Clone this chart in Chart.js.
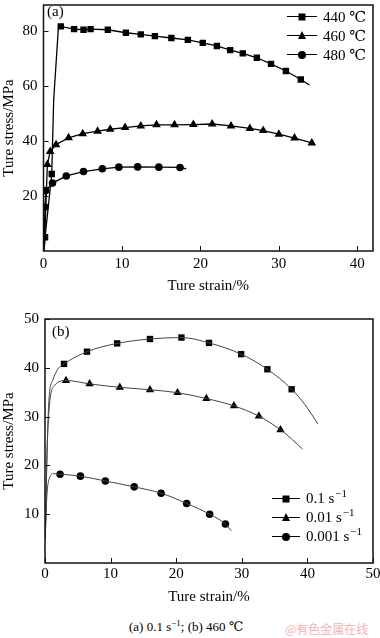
<!DOCTYPE html>
<html>
<head>
<meta charset="utf-8">
<script src="https://cdn.jsdelivr.net/npm/chart.js@4.4.1/dist/chart.umd.min.js"></script>
<style>
  body { margin: 0; background: #fff; width: 380px; height: 638px; overflow: hidden; position: relative;
         font-family: "Liberation Serif", "DejaVu Serif", serif; color: #000; }
  .panel { position: absolute; left: 0; width: 380px; }
  #panel-a { top: 0; height: 300px; }
  #panel-b { top: 300px; height: 310px; }
  .tag { position: absolute; font-size: 15px; line-height: 15px; }
  .legend { position: absolute; font-size: 15px; }
  .legend-item { display: flex; align-items: center; height: 19px; }
  .legend-line { position: relative; width: 30px; height: 0; border-top: 1.4px solid #000; margin-right: 6px; }
  .mk { position: absolute; left: 50%; top: 50%; transform: translate(-50%, -50%); }
  .mk.sq { width: 7px; height: 7px; background: #000; }
  .mk.ci { width: 8px; height: 8px; background: #000; border-radius: 50%; }
  .mk.tr { width: 0; height: 0; border-left: 4.5px solid transparent; border-right: 4.5px solid transparent;
           border-bottom: 8px solid #000; margin-top: -1px; }
  sup { vertical-align: baseline; line-height: 0; position: relative; }
  .legend sup { font-size: 11px; top: -6px; margin-left: 1px; }
  #caption sup { font-size: 9px; top: -5px; }
  #caption { position: absolute; top: 619px; left: 129px; font-size: 13px; }
  #mark { position: absolute; top: 620px; left: 285px; font-size: 12px; color: #f3b3b3;
          font-family: "Noto Sans CJK SC", sans-serif; }
</style>
</head>
<body>

<div class="panel" id="panel-a"><canvas id="chart-a"></canvas></div>
<div class="panel" id="panel-b"><canvas id="chart-b"></canvas></div>

<div class="tag" style="left:47px; top:4px">(a)</div>
<div class="tag" style="left:52px; top:324px">(b)</div>

<div class="legend" style="left:287px; top:7px">
  <div class="legend-item"><span class="legend-line"><span class="mk sq"></span></span>440 ℃</div>
  <div class="legend-item"><span class="legend-line"><span class="mk tr"></span></span>460 ℃</div>
  <div class="legend-item"><span class="legend-line"><span class="mk ci"></span></span>480 ℃</div>
</div>

<div class="legend" style="left:272px; top:489px">
  <div class="legend-item"><span class="legend-line" style="width:28px"><span class="mk sq"></span></span><span>0.1 s<sup>−1</sup></span></div>
  <div class="legend-item"><span class="legend-line" style="width:28px"><span class="mk tr"></span></span><span>0.01 s<sup>−1</sup></span></div>
  <div class="legend-item"><span class="legend-line" style="width:28px"><span class="mk ci"></span></span><span>0.001 s<sup>−1</sup></span></div>
</div>

<div id="caption">(a) 0.1 s<sup>−1</sup>; (b) 460 ℃</div>
<div id="mark">@有色金属在线</div>

<script>
// ---- (a) 0.1 s^-1, three temperatures ----
const xTicksA = [0, 10, 20, 30, 40];
const yTicksA = [20, 40, 60, 80];

const mark440x = [0.2, 1.05, 2.2, 3.9, 5.1, 6.0, 8.2, 10.5, 12.4, 14.2, 16.3, 18.4, 20.3, 22.1, 23.8, 25.4, 27.2, 29.0, 30.9, 32.8];
const mark440y = [5, 28, 81.7, 80.7, 80.5, 80.7, 80.5, 79.4, 78.8, 78.2, 77.5, 76.8, 75.7, 74.6, 73.1, 71.9, 70.3, 68.1, 65.5, 62.4];
const line440x = [0.05, 1.3, 1.9, 33.9];
const line440y = [0, 55, 81.3, 60.4];

const mark460x = [0.49, 0.85, 1.6, 3.2, 5.0, 6.9, 8.5, 10.4, 12.4, 14.4, 16.7, 19.1, 21.5, 23.9, 26.3, 28.0, 30.0, 32.0, 34.2];
const mark460y = [31.5, 36.2, 38.7, 41.2, 42.7, 43.6, 44.3, 44.9, 45.5, 45.9, 45.9, 46.0, 46.2, 45.5, 44.6, 43.8, 42.5, 41.1, 39.3];
const line460x = [0.1];
const line460y = [0];

const mark480x = [0.19, 0.3, 1.15, 2.9, 5.1, 7.5, 9.6, 12.0, 14.7, 17.4];
const mark480y = [16, 22, 24.7, 27.3, 28.9, 29.9, 30.5, 30.6, 30.5, 30.4];
const line480x = [0.05, 18.2];
const line480y = [0, 29.9];

// ---- (b) 460 C, three strain rates ----
const xTicksB = [0, 10, 20, 30, 40, 50];
const yTicksB = [10, 20, 30, 40, 50];

const markR1x = [2.9, 6.4, 11.0, 16.0, 20.8, 25.0, 29.9, 33.9, 37.6];
const markR1y = [40.8, 43.3, 45.0, 45.9, 46.2, 45.1, 42.8, 39.7, 35.6];
const lineR1x = [0.05, 0.3, 0.6, 1.2, 2.0, 39.6, 41.6];
const lineR1y = [5, 22, 33.4, 37.5, 39.8, 32.5, 28.5];

const markR2x = [3.2, 6.8, 11.4, 16.0, 20.2, 24.6, 28.8, 32.6, 35.9];
const markR2y = [37.4, 36.7, 36.0, 35.5, 34.9, 33.7, 32.2, 30.1, 27.3];
const lineR2x = [0.05, 0.3, 0.6, 1.4, 37.6, 39.3];
const lineR2y = [5, 22, 31, 36.3, 25.4, 23.3];

const markR3x = [2.3, 5.4, 9.2, 13.6, 17.7, 21.6, 25.1, 27.5];
const markR3y = [18.2, 17.8, 16.8, 15.6, 14.3, 12.2, 10.0, 8.0];
const lineR3x = [0.02, 0.3, 0.7, 1.3, 28.4];
const lineR3y = [5, 14, 17.5, 18.3, 6.6];

const FONT = { family: '"Liberation Serif", serif', size: 15 };

function pts(xs, ys) {
  return xs.map((x, i) => ({ x: x, y: ys[i] }));
}

// curve through the marked points plus the extra unmarked ones
function curve(mx, my, lx, ly) {
  return pts(mx, my).concat(pts(lx, ly)).sort((p, q) => p.x - q.x);
}

function series(mx, my, lx, ly, style, opts) {
  return [
    Object.assign({ data: curve(mx, my, lx, ly), showLine: true, pointRadius: 0, fill: false }, opts),
    { data: pts(mx, my), showLine: false, pointStyle: style.shape, pointRadius: style.r,
      backgroundColor: '#000', borderColor: '#000', borderWidth: 0 }
  ];
}

const frame = {
  id: 'frame',
  afterDraw(chart) {
    const { ctx, chartArea: a, scales } = chart;
    ctx.save();
    ctx.strokeStyle = '#111';
    ctx.lineWidth = 1;
    scales.x.ticks.forEach(t => {
      const px = Math.round(scales.x.getPixelForValue(t.value)) + 0.5;
      ctx.beginPath(); ctx.moveTo(px, a.bottom); ctx.lineTo(px, a.bottom - 5); ctx.stroke();
    });
    scales.y.ticks.forEach(t => {
      const py = Math.round(scales.y.getPixelForValue(t.value)) + 0.5;
      ctx.beginPath(); ctx.moveTo(a.left, py); ctx.lineTo(a.left + 5, py); ctx.stroke();
    });
    ctx.lineWidth = 1.5;
    ctx.strokeRect(a.left, a.top, a.right - a.left, a.bottom - a.top);
    ctx.restore();
  }
};

function makeChart(id, datasets, cfg) {
  return new Chart(document.getElementById(id), {
    type: 'scatter',
    data: { datasets: datasets },
    plugins: [frame],
    options: {
      responsive: true,
      maintainAspectRatio: false,
      animation: false,
      layout: { padding: cfg.padding },
      plugins: { legend: { display: false }, tooltip: { enabled: false } },
      scales: {
        x: {
          min: 0, max: cfg.xMax,
          grid: { display: false, drawTicks: false },
          border: { display: false },
          afterBuildTicks: (s) => { s.ticks = cfg.xTicks.map(v => ({ value: v })); },
          afterFit: (s) => { s.height = cfg.xHeight; s.paddingLeft = 0; s.paddingRight = 0; },
          ticks: { color: '#000', font: FONT, padding: cfg.xPad, maxRotation: 0 },
          title: { display: true, text: 'Ture strain/%', color: '#000', font: FONT, padding: { top: 0, bottom: cfg.titlePad } }
        },
        y: {
          min: 0, max: cfg.yMax,
          grid: { display: false, drawTicks: false },
          border: { display: false },
          afterBuildTicks: (s) => { s.ticks = cfg.yTicks.map(v => ({ value: v })); },
          afterFit: (s) => { s.width = cfg.yWidth; s.paddingTop = 0; s.paddingBottom = 0; },
          ticks: { color: '#000', font: FONT, padding: 6 },
          title: { display: true, text: 'Ture stress/MPa', color: '#000', font: FONT, padding: { top: 0, bottom: 0 } }
        }
      }
    }
  });
}

const lineA = { borderColor: '#000', borderWidth: 1.3, tension: 0 };
const lineB = { borderColor: '#444', borderWidth: 1, cubicInterpolationMode: 'monotone' };

makeChart('chart-a', [].concat(
  series(mark440x, mark440y, line440x, line440y, { shape: 'rect', r: 4.5 }, lineA),
  series(mark460x, mark460y, line460x, line460y, { shape: 'triangle', r: 5 }, lineA),
  series(mark480x, mark480y, line480x, line480y, { shape: 'circle', r: 3.8 }, lineA)
), { xMax: 42, yMax: 89.5, xTicks: xTicksA, yTicks: yTicksA, xHeight: 49, yWidth: 43.5,
     xPad: 4, titlePad: 5, padding: { top: 0.5, right: 7, bottom: 0, left: 0 } });

makeChart('chart-b', [].concat(
  series(markR1x, markR1y, lineR1x, lineR1y, { shape: 'rect', r: 4.5 }, lineB),
  series(markR2x, markR2y, lineR2x, lineR2y, { shape: 'triangle', r: 4.8 }, lineB),
  series(markR3x, markR3y, lineR3x, lineR3y, { shape: 'circle', r: 3.8 }, lineB)
), { xMax: 50, yMax: 50, xTicks: xTicksB, yTicks: yTicksB, xHeight: 47, yWidth: 45,
     xPad: 2, titlePad: 4, padding: { top: 19, right: 7, bottom: 0, left: 0 } });
</script>
</body>
</html>
